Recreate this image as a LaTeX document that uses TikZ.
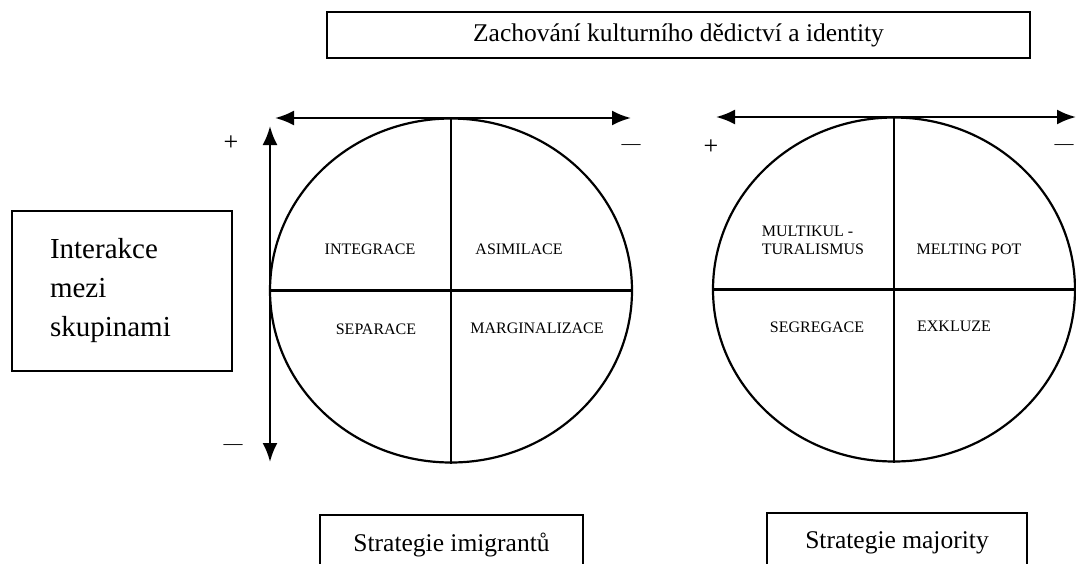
\documentclass[tikz,border=0pt]{standalone}
\usepackage{fontspec}
\setmainfont{Liberation Serif}
\usetikzlibrary{arrows.meta, shapes.geometric, positioning}

\begin{document}
\begin{tikzpicture}[x=1pt,y=-1pt]
 \tikzstyle{frame}=[rectangle,draw=black,line width=2.4pt,inner sep=0pt]
 \tikzstyle{quad}=[ellipse,draw=black,line width=2.2pt,inner sep=0pt,
   minimum width=362pt,minimum height=344pt]
 \tikzstyle{axis}=[line width=2.4pt,
   {Latex[length=19pt,width=15pt]}-{Latex[length=19pt,width=15pt]}]
 \tikzstyle{part}=[line width=2.2pt]
 \tikzstyle{cell}=[font=\fontsize{16}{18}\selectfont,align=center,inner sep=0pt]
 \tikzstyle{sign}=[font=\fontsize{26}{26}\selectfont,inner sep=0pt]
 \tikzstyle{minussign}=[font=\fontsize{19}{19}\selectfont,inner sep=0pt]
 \useasboundingbox (0,0) rectangle (1076,563);

 % heading
 \node (zach) [frame,minimum width=703pt,minimum height=46pt,
   font=\fontsize{25.5}{28}\selectfont] at (678.5,35)
   {Zachování kulturního dědictví a identity};
 \node (inter) [frame,minimum width=220pt,minimum height=160pt,
   text width=144pt,align=left,font=\fontsize{29}{39}\selectfont] at (122,291)
   {Interakce\\mezi\\skupinami};

 % imigranti
 \node (imig) [quad] at (451,290.5) {};
 \draw[part] (imig.north) -- (imig.south);
 \draw[part] (imig.west) -- (imig.east);
 \coordinate (ha) at (275,118);
 \coordinate (hb) at (631,118);
 \coordinate (va) at (270,126);
 \coordinate (vb) at (270,462);
 \draw[axis] (ha) -- (hb);
 \draw[axis] (va) -- (vb);
 \node (plus1) [sign] at (231,143) {+};
 \node (minus1) [minussign] at (631,147) {—};
 \node (minus2) [minussign] at (233,447) {—};
 \node (integ) [cell] at (370,249) {INTEGRACE};
 \node (asim) [cell] at (519,249) {ASIMILACE};
 \node (separ) [cell] at (376,329) {SEPARACE};
 \node (margin) [cell] at (537,328) {MARGINALIZACE};

 % majorita
 \node (majo) [quad] at (894,289.5) {};
 \draw[part] (majo.north) -- (majo.south);
 \draw[part] (majo.west) -- (majo.east);
 \coordinate (ma) at (716,117);
 \coordinate (mb) at (1076,117);
 \draw[axis] (ma) -- (mb);
 \node (plus2) [sign] at (711,147) {+};
 \node (minus3) [minussign] at (1064,147) {—};
 \node (multi) [cell,align=left] at (813,240) {MULTIKUL -\\TURALISMUS};
 \node (melt) [cell] at (969,249) {MELTING POT};
 \node (segreg) [cell] at (817,327) {SEGREGACE};
 \node (exkl) [cell] at (954,326) {EXKLUZE};

 % strategie
 \node (strimig) [frame,minimum width=263pt,minimum height=60pt,
   font=\fontsize{25.5}{28}\selectfont] at (451.5,545) {Strategie imigrantů};
 \node (strmajo) [frame,minimum width=260pt,minimum height=60pt,
   font=\fontsize{25.5}{28}\selectfont] at (897,543) {Strategie majority};
\end{tikzpicture}
\end{document}
